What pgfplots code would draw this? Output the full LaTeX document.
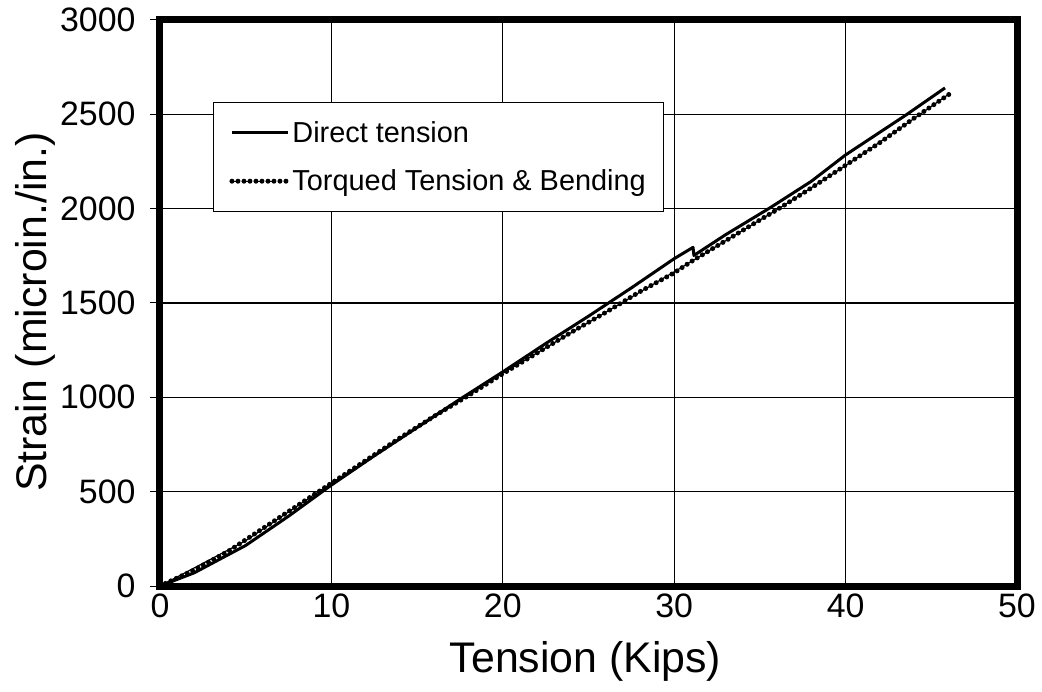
\documentclass[border=0pt]{standalone}
\usepackage{fontspec}
\setmainfont{Liberation Sans}
\usepackage{pgfplots}
\pgfplotsset{compat=1.18}
\begin{document}
\begin{tikzpicture}
\begin{axis}[
  scale only axis,
  width=857bp, height=566bp,
  xmin=0, xmax=50, ymin=0, ymax=3000,
  xtick={0,10,...,50}, ytick={0,500,...,3000},
  /pgf/number format/1000 sep={},
  /pgf/number format/assume math mode=true,
  grid=major,
  major grid style={black, line width=1.1bp},
  axis line style={black, line width=7bp},
  ytick align=outside,
  xtick align=inside,
  ytick pos=left,
  xtick pos=bottom,
  major tick length=10bp,
  major tick style={black, line width=1bp},
  ticklabel style={font=\fontsize{34}{37}\selectfont},
  yticklabel style={xshift=-11bp},
  xticklabel style={yshift=-4bp},
  xlabel={Tension (Kips)},
  ylabel={Strain (microin./in.)},
  label style={font=\fontsize{43}{48}\selectfont},
  xlabel style={at={(axis description cs:0.4965,-0.1537)}, anchor=base},
  ylabel style={at={(axis description cs:-0.1329,0.484)}, anchor=base},
  legend style={at={(axis description cs:0.0618,0.855)}, anchor=north west,
    draw=black, line width=1bp, font=\fontsize{29}{33}\selectfont,
    inner xsep=16bp, inner ysep=17bp, row sep=22bp},
  legend cell align=left,
  clip=true,
]
\addplot[black, line width=3bp, line join=round,
  legend image code/.code={\draw[black, line width=3bp, solid, line cap=butt] (0bp,0bp) -- (44bp,0bp); \path (0bp,0bp) -- (56bp,0bp);}]
  coordinates {
  (0,0) (2,70) (5,215) (7.5,370) (10,535) (12.5,690) (15,840) (17.5,990)
  (20,1135) (22.5,1285) (25,1430) (27.5,1580) (30,1735) (31.1,1795)
  (31.15,1752) (33,1862) (35.6,2005) (38,2145) (40,2285) (43.5,2495) (45.8,2640)
  };
\addlegendentry{Direct tension}
\addplot[black, line width=5bp, line cap=round, dash pattern=on 0bp off 6bp,
  legend image code/.code={\draw[black, line width=0.8bp, line cap=butt, dash pattern=on 1.2bp off 1.2bp] (0bp,0bp) -- (44bp,0bp); \path (0bp,0bp) -- (56bp,0bp);}]
  coordinates {
  (0,0) (2,85) (4,185) (5,245) (6,305) (8,425) (10,545) (12,665) (14,785)
  (16,900) (18,1010) (20,1125) (22,1235) (24,1345) (26,1450) (28,1560)
  (30,1660) (31,1720) (33,1830) (35,1940) (36.1,2000) (38,2110) (40,2230)
  (42,2350) (44,2480) (46.1,2610)
  };
\addlegendentry{Torqued Tension \& Bending}
\addplot[black, line width=1.2bp] coordinates {
  (0,0) (5,240) (10,545) (20,1128) (30,1665) (36.1,2000) (40,2228) (44,2478) (46.1,2612)
  };
\end{axis}
\useasboundingbox (-160bp,-106bp) rectangle (882bp,586bp);
\end{tikzpicture}
\end{document}
